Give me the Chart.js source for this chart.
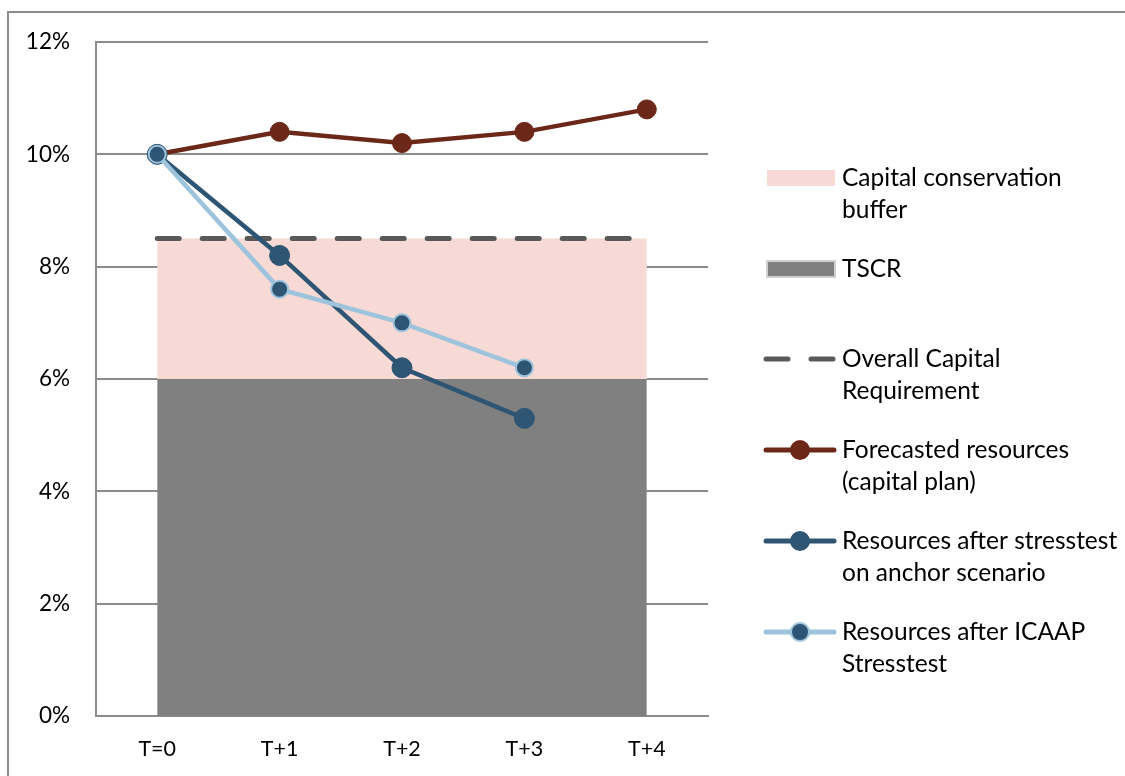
<!DOCTYPE html>
<html>
<head>
<meta charset="utf-8">
<script src="https://cdn.jsdelivr.net/npm/chart.js@4.4.1/dist/chart.umd.min.js"></script>
<style>
    html, body { margin: 0; padding: 0; background: #fff; }
    #wrap { width: 1125px; height: 776px; position: relative; }
</style>
</head>
<body>
<div id="wrap"><canvas id="chart" width="1125" height="776"></canvas></div>
<script>
// categories and series (values in %)
var periods = ['T=0', 'T+1', 'T+2', 'T+3', 'T+4'];
var tscr = [6, 6, 6, 6, 6];
var ocr = [8.5, 8.5, 8.5, 8.5, 8.5];
var forecast = [10, 10.4, 10.2, 10.4, 10.8];
var anchor = [10, 8.2, 6.2, 5.3, null];
var icaap = [10, 7.6, 7.0, 6.2, null];
var yTicks = [0, 2, 4, 6, 8, 10, 12];

var FONT = 'Lato, "Open Sans", sans-serif';

// legend entries drawn at the right side
var legendItems = [
    { kind: 'box', fill: '#f7dad5', stroke: null, lines: ['Capital conservation', 'buffer'], y: 178 },
    { kind: 'box', fill: '#808080', stroke: '#d0d0d0', lines: ['TSCR'], y: 269 },
    { kind: 'dash', color: '#595959', lines: ['Overall Capital', 'Requirement'], y: 359 },
    { kind: 'line', color: '#6b2819', marker: '#6b2819', markerBorder: '#6b2819', lines: ['Forecasted resources', '(capital plan)'], y: 450 },
    { kind: 'line', color: '#2e5573', marker: '#2e5573', markerBorder: '#2e5573', lines: ['Resources after stresstest', 'on anchor scenario'], y: 541 },
    { kind: 'line', color: '#9dc3dd', marker: '#2e5573', markerBorder: '#9dc3dd', lines: ['Resources after ICAAP', 'Stresstest'], y: 632 }
];

var frameAndLegend = {
    id: 'frameAndLegend',
    beforeDraw: function(chart) {
        var ctx = chart.ctx;
        ctx.save();
        ctx.strokeStyle = '#8c8c8c';
        ctx.lineWidth = 2;
        ctx.strokeRect(8, 12, 1300, 900);
        ctx.restore();
    },
    afterDraw: function(chart) {
        var ctx = chart.ctx;
        ctx.save();
        legendItems.forEach(function(item) {
            var y = item.y;
            if (item.kind === 'box') {
                ctx.fillStyle = item.fill;
                ctx.fillRect(767, y - 8, 68, 16);
                if (item.stroke) {
                    ctx.strokeStyle = item.stroke;
                    ctx.lineWidth = 2;
                    ctx.strokeRect(767, y - 8, 68, 16);
                }
            } else if (item.kind === 'dash') {
                ctx.strokeStyle = item.color;
                ctx.lineWidth = 5;
                ctx.lineCap = 'round';
                ctx.beginPath();
                ctx.moveTo(766, y); ctx.lineTo(788, y);
                ctx.moveTo(811, y); ctx.lineTo(833, y);
                ctx.stroke();
            } else {
                ctx.strokeStyle = item.color;
                ctx.lineWidth = 5;
                ctx.lineCap = 'round';
                ctx.beginPath();
                ctx.moveTo(766, y); ctx.lineTo(834, y);
                ctx.stroke();
                ctx.beginPath();
                ctx.arc(800, y, 9, 0, Math.PI * 2);
                ctx.fillStyle = item.marker;
                ctx.fill();
                ctx.lineWidth = 2;
                ctx.strokeStyle = item.markerBorder;
                ctx.stroke();
            }
            ctx.fillStyle = '#000';
            ctx.font = '24.5px ' + FONT;
            ctx.textBaseline = 'middle';
            ctx.textAlign = 'left';
            item.lines.forEach(function(t, i) {
                ctx.fillText(t, 842, y + i * 32);
            });
        });
        ctx.restore();
    }
};

var ctx = document.getElementById('chart').getContext('2d');
new Chart(ctx, {
    type: 'line',
    data: {
        labels: periods,
        datasets: [
            {
                label: 'TSCR',
                data: tscr,
                borderWidth: 0,
                borderColor: 'rgba(0,0,0,0)',
                backgroundColor: '#808080',
                pointRadius: 0,
                fill: 'origin',
                order: 6
            },
            {
                label: 'Capital conservation buffer',
                data: ocr,
                borderWidth: 0,
                borderColor: 'rgba(0,0,0,0)',
                backgroundColor: '#f7dad5',
                pointRadius: 0,
                fill: 0,
                order: 5
            },
            {
                label: 'Overall Capital Requirement',
                data: ocr,
                borderColor: '#595959',
                borderWidth: 5,
                borderDash: [22, 23],
                borderCapStyle: 'round',
                pointRadius: 0,
                fill: false,
                order: 4
            },
            {
                label: 'Forecasted resources (capital plan)',
                data: forecast,
                borderColor: '#6b2819',
                backgroundColor: '#6b2819',
                borderWidth: 4.5,
                pointRadius: 9.5,
                pointBorderWidth: 1,
                pointBorderColor: '#6b2819',
                pointBackgroundColor: '#6b2819',
                fill: false,
                order: 3
            },
            {
                label: 'Resources after stresstest on anchor scenario',
                data: anchor,
                borderColor: '#2e5573',
                backgroundColor: '#2e5573',
                borderWidth: 4.5,
                pointRadius: 10,
                pointBorderWidth: 1,
                pointBorderColor: '#2e5573',
                pointBackgroundColor: '#2e5573',
                fill: false,
                order: 2
            },
            {
                label: 'Resources after ICAAP Stresstest',
                data: icaap,
                borderColor: '#9dc3dd',
                backgroundColor: '#2e5573',
                borderWidth: 4.5,
                pointRadius: 8.5,
                pointBorderWidth: 2,
                pointBorderColor: '#9dc3dd',
                pointBackgroundColor: '#2e5573',
                fill: false,
                order: 1
            }
        ]
    },
    options: {
        responsive: false,
        animation: false,
        layout: { padding: { left: 8, right: 417, top: 42, bottom: 0 } },
        plugins: {
            legend: { display: false },
            tooltip: { enabled: false }
        },
        scales: {
            x: {
                offset: true,
                grid: { display: false, drawTicks: false },
                border: { display: true, color: '#8c8c8c', width: 2 },
                ticks: { color: '#000', font: { family: FONT, size: 21.5 }, padding: 20, maxRotation: 0 },
                afterFit: function(scale) { scale.height = 60; }
            },
            y: {
                min: 0,
                max: 12,
                afterBuildTicks: function(scale) {
                    scale.ticks = yTicks.map(function(v) { return { value: v }; });
                },
                grid: { color: '#8c8c8c', lineWidth: 2, drawTicks: false },
                border: { display: true, color: '#8c8c8c', width: 2 },
                ticks: {
                    color: '#000',
                    font: { family: FONT, size: 22.5 },
                    padding: 26,
                    callback: function(v) { return v + '%'; }
                },
                afterFit: function(scale) { scale.width = 88; }
            }
        }
    },
    plugins: [frameAndLegend]
});
</script>
</body>
</html>
